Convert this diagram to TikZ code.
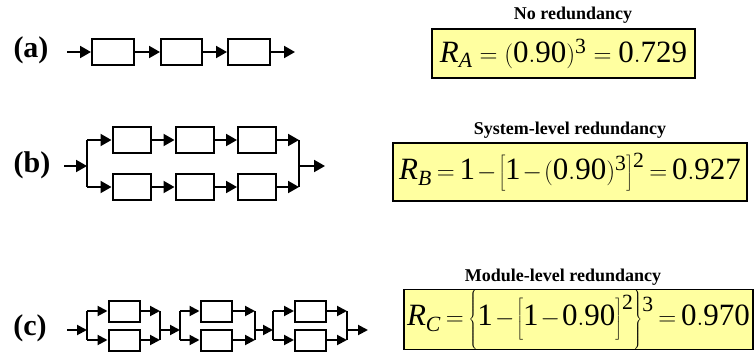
\documentclass[tikz,border=0pt]{standalone}
\usepackage{fontspec}
\setmainfont{Liberation Serif}
\usetikzlibrary{arrows.meta}
\definecolor{formulafill}{RGB}{255,255,160}
% digits and letters of the formulas in the text face
\newcommand\nm[1]{\mathrm{#1}}
\newcommand\vr[1]{\mathit{#1}}
% invisible strut that fixes the height of a \left ... \right pair
\newcommand\dstrut[2]{\vrule height #1 depth #2 width 0pt}
% exponent set lower than TeX would put it after a tall delimiter
\newcommand\lowsup[2]{^{\raisebox{#1}{$\scriptstyle\nm{#2}$}}}
\tikzset{
  unit/.style={draw, line width=2pt, inner sep=0pt, minimum width=#1, minimum height=26pt},
  smallunit/.style={draw, line width=2pt, inner sep=0pt, minimum width=31pt, minimum height=21pt},
  arr/.style={line width=2pt, -{Triangle[length=11pt,width=12pt]}},
  sarr/.style={line width=2pt, -{Triangle[length=10pt,width=10pt]}},
  wire/.style={line width=2pt},
  caselabel/.style={font=\fontsize{30}{36}\selectfont\bfseries, inner sep=0pt},
  heading/.style={font=\fontsize{18}{21}\selectfont\bfseries, inner sep=0pt},
  formulabox/.style={draw, line width=1.2pt, fill=formulafill, inner sep=0pt,
    font=\fontsize{31}{37}\selectfont},
  tight/.style={execute at begin node={\medmuskip=1.5mu\thickmuskip=3.5mu}},
}
\begin{document}
\begin{tikzpicture}[x=1pt,y=-1pt]
\useasboundingbox (0,0) rectangle (754,356);

% ---------- (a) series chain ----------
\node[caselabel] (la) at (31,50) {(a)};
\coordinate (ain) at (67,52);
\node[unit=42pt] (a1) at (113,52) {};
\node[unit=41pt] (a2) at (181.5,52) {};
\node[unit=42pt] (a3) at (249,52) {};
\coordinate (aout) at (295,52);
\draw[arr] (ain) -- (a1);
\draw[arr] (a1) -- (a2);
\draw[arr] (a2) -- (a3);
\draw[arr] (a3) -- (aout);

% ---------- (b) two parallel chains ----------
\node[caselabel] (lb) at (32,165) {(b)};
\coordinate (bin) at (64,166);
\coordinate (bjl) at (87,166);
\coordinate (bjlt) at (87,140);
\coordinate (bjlb) at (87,187);
\coordinate (bjrt) at (299,140);
\coordinate (bjrb) at (299,187);
\coordinate (bjr) at (299,166);
\coordinate (bout) at (325,166);
\node[unit=38pt] (bt1) at (131.5,140) {};
\node[unit=38pt] (bt2) at (194.5,140) {};
\node[unit=38pt] (bt3) at (257,140) {};
\node[unit=38pt] (bb1) at (131.5,187) {};
\node[unit=38pt] (bb2) at (194.5,187) {};
\node[unit=38pt] (bb3) at (257,187) {};
\draw[arr] (bin) -- (bjl);
\draw[wire] (bjlt) -- (bjlb);
\draw[arr] (bjlt) -- (bt1);
\draw[arr] (bjlb) -- (bb1);
\draw[arr] (bt1) -- (bt2);
\draw[arr] (bt2) -- (bt3);
\draw[arr] (bb1) -- (bb2);
\draw[arr] (bb2) -- (bb3);
\draw[arr] (bt3) -- (bjrt);
\draw[arr] (bb3) -- (bjrb);
\draw[wire] (bjrt) -- (bjrb);
\draw[arr] (bjr) -- (bout);

% ---------- (c) duplicated modules in series ----------
\node[caselabel] (lc) at (30,328) {(c)};
\coordinate (cin) at (67,330);
\foreach \m/\xl/\xc/\xr in {1/87/124/160, 2/180/216/255, 3/273/310.5/347} {
  \coordinate (cl\m) at (\xl,330);
  \coordinate (clt\m) at (\xl,311);
  \coordinate (clb\m) at (\xl,340);
  \coordinate (cr\m) at (\xr,330);
  \coordinate (crt\m) at (\xr,311);
  \coordinate (crb\m) at (\xr,340);
  \node[smallunit] (ct\m) at (\xc,311) {};
  \node[smallunit] (cb\m) at (\xc,340) {};
  \draw[wire] (clt\m) -- (clb\m);
  \draw[wire] (crt\m) -- (crb\m);
  \draw[sarr] (clt\m) -- (ct\m);
  \draw[sarr] (clb\m) -- (cb\m);
  \draw[sarr] (ct\m) -- (crt\m);
  \draw[sarr] (cb\m) -- (crb\m);
}
\coordinate (cout) at (368,330);
\draw[sarr] (cin) -- (cl1);
\draw[sarr] (cr1) -- (cl2);
\draw[sarr] (cr2) -- (cl3);
\draw[sarr] (cr3) -- (cout);

% ---------- reliability formulas ----------
\node[heading] (ha) at (573,15) {No redundancy};
\node[formulabox, minimum width=263pt, minimum height=49pt] (fa) at (563.5,53.5)
  {$\vr{R}_{\vr{A}} = (\nm{0.90})^{\nm{3}} = \nm{0.729}$};

\node[heading] (hb) at (570,130) {System-level redundancy};
\node[formulabox, tight, minimum width=354pt, minimum height=58pt] (fb) at (570,172)
  {$\vr{R}_{\vr{B}} = \nm{1} - \left[\dstrut{22pt}{11pt}\nm{1} - (\nm{0.90})^{\nm{3}}\right]\lowsup{-4pt}{2} = \nm{0.927}$};

\node[heading] (hc) at (563,277) {Module-level redundancy};
\node[formulabox, tight, minimum width=349pt, minimum height=59pt] (fc) at (578.5,319.5)
  {$\vr{R}_{\vr{C}} = \left\{\dstrut{36pt}{20pt}\nm{1} - \left[\dstrut{28pt}{17pt}\nm{1} - \nm{0.90}\right]\lowsup{-4pt}{2}\right\}\lowsup{-14pt}{3} = \nm{0.970}$};
\end{tikzpicture}
\end{document}
